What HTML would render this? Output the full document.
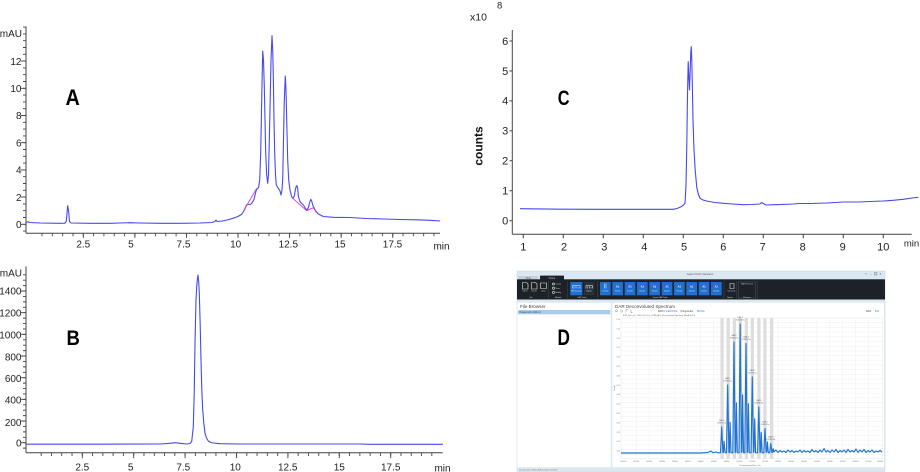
<!DOCTYPE html>
<html><head><meta charset="utf-8"><style>
html,body{margin:0;padding:0;background:#fff;}
body{width:920px;height:472px;overflow:hidden;}
svg{display:block;font-family:"Liberation Sans",Arial,sans-serif;}
</style></head><body>
<svg width="920" height="472" viewBox="0 0 920 472" xmlns="http://www.w3.org/2000/svg">
<rect width="920" height="472" fill="#fff"/>

<!-- ================= PANEL A ================= -->
<g stroke="#444" fill="none">
  <line x1="26" y1="26.5" x2="26" y2="233.3" stroke-width="1"/>
  <line x1="26" y1="233.3" x2="440" y2="233.3" stroke-width="1"/>
  <line x1="24.5" y1="26.65" x2="24.5" y2="231.6" stroke-width="3" stroke-dasharray="0.9 5.9"/>
  <line x1="23.5" y1="60.65" x2="23.5" y2="224.75" stroke-width="5" stroke-dasharray="0.9 26.3"/>
  <line x1="41.57" y1="234.8" x2="434.5" y2="234.8" stroke-width="3" stroke-dasharray="0.9 9.415"/>
  <line x1="82.85" y1="235.6" x2="393.5" y2="235.6" stroke-width="4.6" stroke-dasharray="0.9 50.675"/>
</g>
<g font-size="10" fill="#222" text-anchor="end">
  <text x="22" y="37">mAU</text>
  <text x="21.5" y="65">12</text>
  <text x="21.5" y="92">10</text>
  <text x="21.5" y="119">8</text>
  <text x="21.5" y="146.5">6</text>
  <text x="21.5" y="173.5">4</text>
  <text x="21.5" y="201">2</text>
  <text x="21.5" y="228">0</text>
</g>
<g font-size="10" fill="#222" text-anchor="middle">
  <text x="83.3" y="247.7">2.5</text>
  <text x="130.9" y="247.7">5</text>
  <text x="183.5" y="247.7">7.5</text>
  <text x="235.7" y="247.7">10</text>
  <text x="288.3" y="247.7">12.5</text>
  <text x="340" y="247.7">15</text>
  <text x="392.5" y="247.7">17.5</text>
  <text x="441.5" y="249.5">min</text>
</g>
<text transform="translate(65.5,105) scale(0.9,1)" font-size="22" font-weight="bold" fill="#000">A</text>
<path fill="none" stroke="#4848f0" stroke-width="1.1" stroke-linejoin="round" d="M26,222.5 L28,221.8 L30,222.5 L40,223 L60,223.3 L65,223.2 L66.3,221 L67.7,205.7 L68.7,212 L69.5,221.5 L71,223 L90,223.3 L110,223.3 L120,223 L130,222.7 L140,223 L160,223.3 L180,223.3 L200,223 L212,222.5 L215,221.5 L216,220 L217,221.5 L222,221 L227,220 L233,218.3 L238,216.5 L242,214 L244.5,210 L246.5,205 L248,204.5 L250.5,204.3 L252,203 L254,199.5 L255.5,193 L256.5,189.5 L258.5,187.7 L259.7,180 L260.7,153 L261.7,100 L262.7,51 L263.5,60 L264.3,86.7 L265,120 L265.7,153 L266.7,175 L267.7,183.3 L268.5,175 L269.3,140 L270.3,95 L271,60 L272,35.7 L272.7,50 L273.3,75 L274,120 L274.7,153 L275.5,175 L276.3,185 L278.3,188.3 L280,191 L281,195 L282,190 L282.7,180 L283.5,140 L284.3,100 L285.3,76 L286,90 L286.7,120 L287.7,160 L288.7,180 L290,190 L291.7,196.7 L293,198.5 L294.3,196 L295.3,190 L296.3,186 L297,185.7 L297.7,188 L298.3,196 L300,201.7 L303.3,205 L306.7,210 L308.3,208 L309.5,203 L310.7,199.3 L311.7,201 L312.7,205 L315,210 L318.3,214 L323.3,216.5 L333.3,217.3 L350,217.5 L366.7,218.5 L383,219 L400,219.5 L416.7,219.8 L430,220.3 L440,221"/>
<path fill="none" stroke="#d040d0" stroke-width="0.9" d="M243.5,211 L256.7,188.3 M293.3,198.8 L306.7,210.7 L313.3,207.7 L316.7,213"/>

<!-- ================= PANEL B ================= -->
<g stroke="#444" fill="none">
  <line x1="26" y1="266.5" x2="26" y2="452.7" stroke-width="1"/>
  <line x1="26" y1="452.7" x2="442.7" y2="452.7" stroke-width="1"/>
  <line x1="24.5" y1="274.35" x2="24.5" y2="448.6" stroke-width="3" stroke-dasharray="0.9 4.5167"/>
  <line x1="23.5" y1="290.55" x2="23.5" y2="443.15" stroke-width="5" stroke-dasharray="0.9 20.767"/>
  <line x1="40.73" y1="454.35" x2="437.5" y2="454.35" stroke-width="3.3" stroke-dasharray="0.9 9.38"/>
  <line x1="81.85" y1="455.5" x2="391.2" y2="455.5" stroke-width="5.6" stroke-dasharray="0.9 50.5"/>
</g>
<g font-size="10" fill="#222" text-anchor="end">
  <text x="22" y="276.3">mAU</text>
  <text x="21.5" y="294.6">1400</text>
  <text x="21.5" y="316.3">1200</text>
  <text x="21.5" y="338.6">1000</text>
  <text x="21.5" y="360.3">800</text>
  <text x="21.5" y="382">600</text>
  <text x="21.5" y="403.6">400</text>
  <text x="21.5" y="425.9">200</text>
  <text x="21.5" y="446.3">0</text>
</g>
<g font-size="10" fill="#222" text-anchor="middle">
  <text x="82.3" y="470.7">2.5</text>
  <text x="130.7" y="470.7">5</text>
  <text x="183.3" y="470.7">7.5</text>
  <text x="235.3" y="470.7">10</text>
  <text x="287.7" y="470.7">12.5</text>
  <text x="339.3" y="470.7">15</text>
  <text x="390.7" y="470.7">17.5</text>
  <text x="442.5" y="471.5">min</text>
</g>
<text transform="translate(66.5,345) scale(0.86,1)" font-size="21.5" font-weight="bold" fill="#000">B</text>
<path fill="none" stroke="#4848f0" stroke-width="1.1" stroke-linejoin="round" d="M26,444.2 L100,444.2 L160,444 L170,443.3 L175,442.7 L180,443.3 L187,444 L190,443.5 L191.7,441.5 L193.3,426.7 L194.3,390 L195,343.3 L196,300 L196.7,286.7 L197.5,278 L198,275 L198.7,282 L199.3,293.3 L200.2,325 L201,360 L201.8,390 L202.7,410 L204,425 L205,433.3 L206.5,438 L208.3,441 L211,442.5 L213.3,443 L220,443.7 L240,444 L300,444 L360,444 L370,444.3 L443,444.3"/>

<!-- ================= PANEL C ================= -->
<g stroke="#444" fill="none" stroke-width="1">
  <line x1="512.3" y1="30" x2="512.3" y2="234.3"/>
  <line x1="512.3" y1="234.3" x2="911.7" y2="234.3"/>
  <path d="M509.5,220.7h2.8 M509.5,190.8h2.8 M509.5,160.8h2.8 M509.5,130.9h2.8 M509.5,100.9h2.8 M509.5,71h2.8 M509.5,41h2.8"/>
  <path d="M523.3,234.3v4 M563.3,234.3v4 M603.3,234.3v4 M643.3,234.3v4 M683.3,234.3v4 M723.3,234.3v4 M763.3,234.3v4 M803.3,234.3v4 M843.3,234.3v4 M883.3,234.3v4"/>
</g>
<g font-size="11" fill="#222" text-anchor="end">
  <text x="508.3" y="224.5">0</text>
  <text x="508.3" y="194.6">1</text>
  <text x="508.3" y="164.6">2</text>
  <text x="508.3" y="134.7">3</text>
  <text x="508.3" y="104.7">4</text>
  <text x="508.3" y="74.8">5</text>
  <text x="508.3" y="44.8">6</text>
</g>
<g font-size="11" fill="#222" text-anchor="middle">
  <text x="523.3" y="250.7">1</text>
  <text x="564" y="250.7">2</text>
  <text x="604.3" y="250.7">3</text>
  <text x="644.3" y="250.7">4</text>
  <text x="684" y="250.7">5</text>
  <text x="723.3" y="250.7">6</text>
  <text x="762.7" y="250.7">7</text>
  <text x="802.7" y="250.7">8</text>
  <text x="842.7" y="250.7">9</text>
  <text x="883.3" y="250.7">10</text>
  <text x="911.5" y="246.5" font-size="9.5">min</text>
</g>
<text x="470" y="20.5" font-size="10.5" fill="#222">x10</text>
<text x="497" y="8.5" font-size="9.5" fill="#222">8</text>
<text transform="translate(482.5,146) rotate(-90)" text-anchor="middle" font-size="12" font-weight="bold" fill="#111">counts</text>
<text transform="translate(557.8,105) scale(0.76,1)" font-size="21.5" font-weight="bold" fill="#000">C</text>
<path fill="none" stroke="#4848f0" stroke-width="1.1" stroke-linejoin="round" d="M520,208.7 L560,209.2 L600,209.3 L640,209.3 L673.3,209.3 L677,208.5 L680,207.3 L683,205.5 L685,203.3 L686,185 L686.7,150 L687.5,95 L688.2,61.7 L688.8,75 L689.5,90 L690.2,70 L690.8,52 L691.3,46.7 L691.8,60 L692.3,83.3 L693,120 L694,150 L695.2,170 L696.7,186.7 L698.3,194 L700,198.3 L703,200 L706.7,201 L715,202.5 L723.3,203.3 L733,204 L743.3,204.7 L752,204.5 L760,204 L761.5,202.5 L763.3,203.5 L766,205 L775,204.7 L793.3,204 L800,203.5 L810,203.5 L826.7,203 L835,202.5 L843.3,202 L850,202 L860,202 L870,201.5 L883.3,201 L893,200.3 L903.3,199.3 L912,198 L918.3,197.3"/>

<!-- ================= PANEL D ================= -->
<!-- frame -->
<rect x="517" y="271" width="368" height="200.5" fill="#dbe7f1" stroke="#c5d3de" stroke-width="0.5"/>
<text x="700" y="275" font-size="2.6" fill="#666" text-anchor="middle">Agilent DAR Calculator</text>
<text x="865" y="275" font-size="3" fill="#555">?</text>
<text x="870" y="275" font-size="3" fill="#555">–</text>
<rect x="874.5" y="272.6" width="2.4" height="2.4" fill="none" stroke="#555" stroke-width="0.4"/>
<text x="879.5" y="275.2" font-size="3.2" fill="#555">×</text>
<!-- tabs -->
<rect x="518.3" y="276" width="20" height="4" fill="#c8d0d7"/>
<text x="528.3" y="279.2" font-size="2.5" fill="#555" text-anchor="middle">Help</text>
<rect x="540" y="275.6" width="24" height="4.5" fill="#1d2228"/>
<text x="552" y="278.8" font-size="2.5" fill="#ccc" text-anchor="middle">Home</text>
<!-- ribbon -->
<rect x="517" y="279.3" width="368" height="20.2" fill="#1d2228"/>
<g stroke="#4a5560" stroke-width="0.4">
  <line x1="548.3" y1="281" x2="548.3" y2="298.5"/>
  <line x1="567.7" y1="281" x2="567.7" y2="298.5"/>
  <line x1="597.3" y1="281" x2="597.3" y2="298.5"/>
  <line x1="724" y1="281" x2="724" y2="298.5"/>
  <line x1="736.7" y1="281" x2="736.7" y2="298.5"/>
  <line x1="757.5" y1="281" x2="757.5" y2="298.5"/>
</g>
<g fill="none" stroke="#e8e8e8" stroke-width="0.6">
  <path d="M522.5,282.5h4l1.5,1.5v5h-5.5z"/>
  <path d="M531.5,282.5h4l1.5,1.5v5h-5.5z"/>
  <path d="M540.5,283h6v5.5h-6z"/>
  <circle cx="553.5" cy="284" r="1.1"/>
  <circle cx="553.5" cy="288.2" r="1.1"/>
  <circle cx="553.5" cy="292.5" r="1.1"/>
  <path d="M730,283.5h4v5h-4z"/>
</g>
<g font-size="1.9" fill="#cfd6dc" text-anchor="middle">
  <text x="525" y="291.5">Open</text><text x="534" y="291.5">Create</text><text x="543.5" y="291.5">Save</text>
  <text x="531" y="298">File</text><text x="558" y="298">Method</text><text x="582" y="298">DAR Tools</text>
  <text x="660" y="298">Series DAR Tools</text><text x="730" y="298">Report</text><text x="747" y="298">Windows</text>
  <text x="731.5" y="291.5">Generate</text>
</g>
<g font-size="1.9" fill="#cfd6dc">
  <text x="555.5" y="284.7">Create</text><text x="555.5" y="288.9">Save</text><text x="555.5" y="293.2">Modify</text>
</g>
<rect x="570.3" y="282" width="12" height="13.3" fill="#1e70d3"/>
<rect x="584" y="282" width="10.5" height="13.3" fill="#2a3038"/>
<g fill="#1e70d3">
  <rect x="600" y="282" width="10.7" height="13.3"/>
  <rect x="612.3" y="282" width="10.7" height="13.3"/>
  <rect x="624.7" y="282" width="10.7" height="13.3"/>
  <rect x="637" y="282" width="10.7" height="13.3"/>
  <rect x="649.3" y="282" width="10.7" height="13.3"/>
  <rect x="661.7" y="282" width="10.7" height="13.3"/>
  <rect x="674" y="282" width="10.7" height="13.3"/>
  <rect x="686.3" y="282" width="10.7" height="13.3"/>
  <rect x="698.7" y="282" width="10.7" height="13.3"/>
  <rect x="711" y="282" width="10.7" height="13.3"/>
</g>
<g fill="none" stroke="#fff" stroke-width="0.5">
  <path d="M572.5,288.5v-3h7.5v3M574,288.5v-2M576,288.5v-2.5M578,288.5v-1.5"/>
  <path d="M586,288.5v-3h6.5v3M587.5,288.5v-2M589.5,288.5v-2.5M591,288.5v-1.5"/>
  <path d="M604.5,283.5v5M606,283.5v5"/>
</g>
<g font-size="2.6" fill="#fff" text-anchor="middle" font-weight="bold">
  <text x="617.6" y="287.5">A1</text><text x="630" y="287.5">A1</text><text x="642.3" y="287.5">A1</text>
  <text x="654.6" y="287.5">A1</text><text x="667" y="287.5">A1</text><text x="679.3" y="287.5">A1</text>
  <text x="691.6" y="287.5">A1</text><text x="704" y="287.5">A1</text><text x="716.3" y="287.5">A1</text>
</g>
<g font-size="1.7" fill="#dbe6f3" text-anchor="middle">
  <text x="576.3" y="291.5">DAR Compute</text><text x="589" y="291.5">Export</text><text x="605.3" y="291.5">Sample</text>
  <text x="617.6" y="291.5">Sample</text><text x="630" y="291.5">Sample</text><text x="642.3" y="291.5">Sample</text>
  <text x="654.6" y="291.5">Sample</text><text x="667" y="291.5">Sample</text><text x="679.3" y="291.5">Sample</text>
  <text x="691.6" y="291.5">Sample</text><text x="704" y="291.5">Sample</text><text x="716.3" y="291.5">Sample</text>
</g>
<rect x="738.3" y="282" width="17.4" height="16" fill="none" stroke="#5a6570" stroke-width="0.4"/>
<text x="747" y="284.6" font-size="1.9" fill="#cfd6dc" text-anchor="middle">DAR Peak List</text>

<!-- left panel -->
<rect x="517.3" y="302.7" width="93.5" height="164.5" fill="#fff"/>
<text x="520" y="307.8" font-size="4.6" fill="#444">File Browser</text>
<rect x="518" y="310" width="92.3" height="4.3" fill="#a8ccee"/>
<text x="519.5" y="313.2" font-size="2.6" fill="#345">Rapamycin ADC.d</text>
<text transform="translate(557.5,345) scale(0.78,1)" font-size="22" font-weight="bold" fill="#000">D</text>

<!-- right panel -->
<rect x="612.3" y="302.7" width="271.7" height="164.5" fill="#fff"/>
<text x="615" y="307.8" font-size="4.6" fill="#444">DAR Deconvoluted Spectrum</text>
<g fill="none" stroke="#777" stroke-width="0.45">
  <circle cx="616.5" cy="310.8" r="1"/><path d="M621,312.5v-3M622.5,312.5v-2M626,312.5v-3h2M631,309.5v3h1.5"/>
</g>
<text x="658" y="312.2" font-size="2.3" fill="#444">DAR 0:</text>
<text x="666" y="312.2" font-size="2.3" fill="#2a7bd6">148178 Da</text>
<text x="680" y="312.2" font-size="2.3" fill="#444">|  Drug/Linker:</text>
<text x="697" y="312.2" font-size="2.3" fill="#2a7bd6">915 Da</text>
<text x="866" y="312.2" font-size="2.3" fill="#444">DAR:</text>
<text x="875" y="312.2" font-size="2.5" fill="#2a7bd6" font-weight="bold">5.4</text>
<text x="623" y="316.2" font-size="1.9" fill="#666">ECB_Scan_01_1-DE-Ct,0.3 min_SCAN_ADC (Deconvoluted Spectrum) (MaxEnt) Full</text>

<!-- plot grid -->
<rect x="621" y="318" width="261.3" height="140.7" fill="#fff" stroke="#ddd" stroke-width="0.4"/>
<g stroke="#ececec" stroke-width="0.4">
  <path d="M636.2,318v140.7 M649.1,318v140.7 M662,318v140.7 M674.9,318v140.7 M687.8,318v140.7 M700.7,318v140.7 M713.6,318v140.7 M726.5,318v140.7 M739.4,318v140.7 M752.3,318v140.7 M765.2,318v140.7 M778.1,318v140.7 M791,318v140.7 M803.9,318v140.7 M816.8,318v140.7 M829.7,318v140.7 M842.6,318v140.7 M855.5,318v140.7 M868.4,318v140.7"/>
  <path d="M621,322.7h261.3 M621,327.4h261.3 M621,332.1h261.3 M621,336.8h261.3 M621,341.5h261.3 M621,346.2h261.3 M621,350.9h261.3 M621,355.6h261.3 M621,360.3h261.3 M621,365h261.3 M621,369.7h261.3 M621,374.4h261.3 M621,379.1h261.3 M621,383.8h261.3 M621,388.5h261.3 M621,393.2h261.3 M621,397.9h261.3 M621,402.6h261.3 M621,407.3h261.3 M621,412h261.3 M621,416.7h261.3 M621,421.4h261.3 M621,426.1h261.3 M621,430.8h261.3 M621,435.5h261.3 M621,440.2h261.3 M621,444.9h261.3 M621,449.6h261.3 M621,454.3h261.3"/>
</g>
<!-- gray bands -->
<g fill="#dedede">
  <rect x="720.4" y="318" width="3.3" height="140.7"/>
  <rect x="726.6" y="318" width="3.3" height="140.7"/>
  <rect x="732.7" y="318" width="3.3" height="140.7"/>
  <rect x="738.7" y="318" width="3.3" height="140.7"/>
  <rect x="744.7" y="318" width="3.3" height="140.7"/>
  <rect x="750.7" y="318" width="3.3" height="140.7"/>
  <rect x="757.3" y="318" width="3.3" height="140.7"/>
  <rect x="763.3" y="318" width="3.3" height="140.7"/>
  <rect x="770" y="318" width="3.3" height="140.7"/>
</g>
<!-- y labels -->
<g font-size="1.9" fill="#777" text-anchor="end">
  <text x="620" y="320">1.45</text><text x="620" y="329.4">1.35</text><text x="620" y="338.8">1.25</text><text x="620" y="348.2">1.15</text>
  <text x="620" y="357.6">1.05</text><text x="620" y="367">0.95</text><text x="620" y="376.4">0.85</text><text x="620" y="385.8">0.75</text>
  <text x="620" y="395.2">0.65</text><text x="620" y="404.6">0.55</text><text x="620" y="414">0.45</text><text x="620" y="423.4">0.35</text>
  <text x="620" y="432.8">0.25</text><text x="620" y="442.2">0.15</text><text x="620" y="451.6">0.05</text>
</g>
<text transform="translate(614.8,388) rotate(-90)" font-size="2" fill="#666" text-anchor="middle">Counts</text>
<!-- x labels -->
<g font-size="1.8" fill="#777" text-anchor="middle">
  <text x="623.3" y="462">140000</text><text x="636.2" y="462">141000</text><text x="649.1" y="462">142000</text>
  <text x="662" y="462">143000</text><text x="674.9" y="462">144000</text><text x="687.8" y="462">145000</text>
  <text x="700.7" y="462">146000</text><text x="713.6" y="462">147000</text><text x="726.5" y="462">148000</text>
  <text x="739.4" y="462">149000</text><text x="752.3" y="462">150000</text><text x="765.2" y="462">151000</text>
  <text x="778.1" y="462">152000</text><text x="791" y="462">153000</text><text x="803.9" y="462">154000</text>
  <text x="816.8" y="462">155000</text><text x="829.7" y="462">156000</text><text x="842.6" y="462">157000</text>
  <text x="855.5" y="462">158000</text><text x="868.4" y="462">159000</text><text x="880" y="462">160000</text>
</g>
<text x="750" y="465.8" font-size="2" fill="#666" text-anchor="middle">Deconvoluted Mass, Da</text>
<!-- spectrum -->
<path fill="none" stroke="#1f73d2" stroke-width="1.15" stroke-linejoin="round" d="M621,453 L700,453 L708,452.5 L711,451 L713,452.8 L716,452 L718,452.8 L720.5,452.8 L721.7,427 L722.9,452.5 L723.4,452.5 L724.1,441.3 L725,452.5 L726.5,452.8 L727.7,385 L728.9,452.5 L729.4,452.5 L730.1,422.4 L731,452.8 L732.8,452.8 L734,342 L735.2,452.5 L735.7,452 L736.4,403 L737.3,452.8 L739,452.8 L740.2,324 L741.4,452.5 L741.9,452 L742.6,395 L743.5,452.8 L744.8,452.8 L746,343.5 L747.2,452.5 L747.7,452 L748.4,403.7 L749.3,452.8 L751.1,452.8 L752.3,377 L753.5,452.5 L754,452 L754.7,418.8 L755.6,452.8 L757.6,452.8 L758.8,407 L760,452.5 L760.5,452 L761.2,432.3 L762.1,452.8 L763.8,452.8 L765,428.5 L766.2,452.5 L766.7,452 L767.4,442 L768.3,452.8 L769.7,452.8 L770.8,443.5 L771.9,452.5 L772.5,452 L773.2,448.7 L774,452 L776,450 L778,452.5 L780,450.5 L782,452 L784,451 L786,452.5 L788,450 L790,452 L792,450.5 L794,452.5 L796,451 L798,452 L800,450 L802,452.5 L804,450.5 L806,452 L808,451 L810,452.5 L812,449.5 L814,452 L816,450.5 L818,452.5 L820,450 L822,452 L824,448.5 L826,452 L828,450.5 L830,452.5 L832,450 L834,452 L836,449.5 L838,452.5 L840,450.5 L842,452 L844,450 L846,452.5 L848,449.5 L850,452 L852,450.5 L854,452 L856,449 L858,452.5 L860,450 L862,452 L864,449.5 L866,452.5 L868,450.5 L870,452 L872,450 L874,452.5 L876,451 L878,452 L880,450.5 L882,452"/>
<!-- peak labels -->
<g font-size="1.8" fill="#555" text-anchor="middle">
  <text x="721.7" y="421">DAR 0</text><text x="721.7" y="423.6">148178 Da</text>
  <text x="727.7" y="379">DAR 1</text><text x="727.7" y="381.6">149093 Da</text>
  <text x="734" y="336">DAR 2</text><text x="734" y="338.6">150008 Da</text>
  <text x="740.2" y="318">DAR 3</text><text x="740.2" y="320.6">150923 Da</text>
  <text x="746" y="337.5">DAR 4</text><text x="746" y="340.1">151838 Da</text>
  <text x="752.3" y="371">DAR 5</text><text x="752.3" y="373.6">152753 Da</text>
  <text x="758.8" y="401">DAR 6</text><text x="758.8" y="403.6">153668 Da</text>
  <text x="765" y="422.5">DAR 7</text><text x="765" y="425.1">154583 Da</text>
  <text x="770.8" y="437.5">DAR 8</text><text x="770.8" y="440.1">155498 Da</text>
</g>
<!-- status bar -->
<text x="519" y="470.3" font-size="2" fill="#666">Current user: admin, Active project: Default</text>
</svg>
</body></html>
